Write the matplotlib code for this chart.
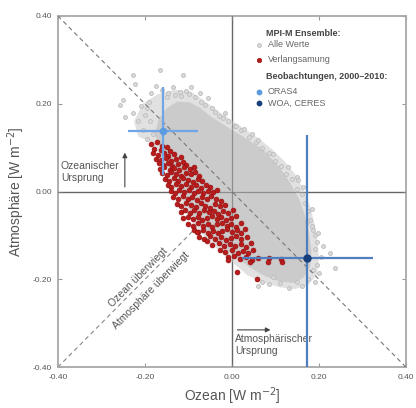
import matplotlib
matplotlib.use("Agg")
import matplotlib.pyplot as plt

plt.rcParams["font.family"] = ["Liberation Sans", "DejaVu Sans"]

# ---------------- data ----------------
tick_vals = [-0.40, -0.20, 0.00, 0.20, 0.40]
tick_labels = ["-0.40", "-0.20", "0.00", "0.20", "0.40"]

# "Alle Werte": thousands of overlapping points, drawn as their dense core ...
grey_core_x = [-0.178, -0.168, -0.150, -0.125, -0.097, -0.072, -0.050, -0.012, 0.026, 0.072, 0.110,
               0.135, 0.155, 0.168, 0.177, 0.183, 0.180, 0.165, 0.145, 0.110, 0.075, 0.040, 0.010,
               -0.030, -0.065, -0.095, -0.120, -0.140, -0.155, -0.168]
grey_core_y = [0.130, 0.165, 0.190, 0.205, 0.203, 0.190, 0.172, 0.148, 0.125, 0.095, 0.055,
               0.018, -0.018, -0.055, -0.095, -0.135, -0.170, -0.195, -0.208, -0.205, -0.192, -0.172, -0.150,
               -0.120, -0.085, -0.045, -0.005, 0.040, 0.080, 0.110]
# ... their speckled fringe ...
grey_halo_x = [-0.215, -0.225, -0.205, -0.170, -0.130, -0.095, -0.060, -0.030, 0.000, 0.030, 0.060,
               0.090, 0.120, 0.145, 0.165, 0.180, 0.190, 0.197, 0.200, 0.195, 0.175, 0.145, 0.110,
               0.070, 0.035, 0.000, -0.040, -0.075, -0.105, -0.128, -0.148, -0.165, -0.190]
grey_halo_y = [0.125, 0.160, 0.200, 0.222, 0.232, 0.228, 0.205, 0.182, 0.162, 0.142, 0.122,
               0.098, 0.070, 0.040, 0.005, -0.035, -0.075, -0.115, -0.155, -0.190, -0.213, -0.222, -0.218,
               -0.207, -0.190, -0.160, -0.125, -0.090, -0.050, -0.010, 0.040, 0.085, 0.115]
# ... and the single points outside
grey_x = [-0.257, -0.250, -0.227, -0.223, -0.166, -0.112, -0.093, -0.074, -0.055, -0.016, -0.120,
          -0.246, -0.228, -0.215, -0.205, -0.200, -0.190, -0.185, -0.175, -0.160, -0.148, -0.135,
          -0.130, -0.105, -0.085, -0.070, -0.045, -0.030, -0.010, 0.005, 0.020, -0.195, -0.210,
          -0.188, -0.182, -0.195, -0.150, -0.118, -0.098, -0.062, -0.040, -0.020, 0.010,
          0.040, 0.055, 0.070, 0.085, 0.100, 0.112, 0.125, 0.138, 0.149, 0.152, 0.150, 0.160,
          0.168, 0.175, 0.180, 0.185, 0.187, 0.195, 0.190, 0.225, 0.205, 0.237, 0.195, 0.191,
          0.186, 0.200, 0.175, 0.160, 0.149, 0.130, 0.110, 0.095, 0.085, 0.070, 0.060, 0.192,
          0.060, 0.095, 0.128, 0.163, 0.185, 0.198, 0.210, 0.045, 0.028, 0.172]
grey_y = [0.197, 0.208, 0.265, 0.245, 0.277, 0.265, 0.239, 0.224, 0.213, 0.178, 0.227,
          0.170, 0.180, 0.160, 0.140, 0.175, 0.205, 0.225, 0.240, 0.232, 0.225, 0.238,
          0.220, 0.228, 0.215, 0.205, 0.190, 0.172, 0.160, 0.150, 0.140, 0.190, 0.195,
          0.160, 0.130, 0.120, 0.215, 0.218, 0.222, 0.198, 0.182, 0.168, 0.150,
          0.125, 0.112, 0.100, 0.088, 0.070, 0.058, 0.040, 0.028, 0.034, 0.026, 0.005, -0.005,
          -0.025, -0.045, -0.065, -0.078, -0.088, -0.114, -0.130, -0.141, -0.150, -0.175, -0.167, -0.205,
          -0.179, -0.185, -0.200, -0.215, -0.205, -0.220, -0.209, -0.194, -0.210, -0.205, -0.215, -0.100,
          0.118, 0.085, 0.055, 0.010, -0.040, -0.095, -0.125, 0.130, 0.142, -0.070]

# "Verlangsamung" members
red_x = [-0.185, -0.172, -0.160, -0.178, -0.164, -0.150, -0.142, -0.182, -0.170, -0.157, -0.146, -0.133,
         -0.175, -0.163, -0.152, -0.140, -0.128, -0.118, -0.168, -0.158, -0.147, -0.137, -0.125, -0.113, -0.106,
         -0.165, -0.155, -0.143, -0.132, -0.121, -0.110, -0.097, -0.088,
         -0.160, -0.150, -0.139, -0.128, -0.117, -0.106, -0.095, -0.084, -0.075,
         -0.154, -0.145, -0.134, -0.123, -0.112, -0.101, -0.090, -0.079, -0.068,
         -0.148, -0.139, -0.128, -0.117, -0.106, -0.095, -0.083, -0.072, -0.060, -0.050,
         -0.140, -0.131, -0.121, -0.110, -0.099, -0.088, -0.077, -0.066, -0.055, -0.044, -0.034,
         -0.135, -0.124, -0.113, -0.102, -0.091, -0.080, -0.069, -0.058, -0.047, -0.036, -0.025,
         -0.127, -0.116, -0.105, -0.094, -0.083, -0.072, -0.061, -0.050, -0.039, -0.028, -0.016,
         -0.118, -0.108, -0.097, -0.086, -0.075, -0.064, -0.053, -0.042, -0.031, -0.020, -0.008, 0.003,
         -0.112, -0.101, -0.090, -0.079, -0.068, -0.057, -0.046, -0.035, -0.024, -0.013, -0.002, 0.009,
         -0.100, -0.089, -0.078, -0.067, -0.056, -0.045, -0.034, -0.023, -0.012, -0.001, 0.010, 0.020,
         -0.088, -0.077, -0.066, -0.055, -0.044, -0.033, -0.022, -0.011, 0.000, 0.011, 0.022, 0.030,
         -0.075, -0.063, -0.050, -0.038, -0.026, -0.014, -0.002, 0.010, 0.022, 0.034,
         -0.058, -0.045, -0.030, -0.018, -0.005, 0.008, 0.020, 0.032, 0.043,
         -0.028, -0.015, 0.000, 0.013, 0.026, 0.038, 0.048,
         -0.010, 0.005, 0.018, 0.032, 0.045, 0.060, 0.085, 0.112,
         0.011, 0.057, 0.114, 0.083, 0.041, -0.009, -0.081]
red_y = [0.108, 0.112, 0.104, 0.097, 0.094, 0.101, 0.092, 0.087, 0.083, 0.088, 0.081, 0.086,
         0.075, 0.072, 0.077, 0.070, 0.074, 0.079, 0.064, 0.061, 0.066, 0.059, 0.063, 0.068, 0.060,
         0.052, 0.055, 0.050, 0.053, 0.049, 0.055, 0.051, 0.057,
         0.042, 0.038, 0.044, 0.040, 0.036, 0.043, 0.039, 0.045, 0.035,
         0.028, 0.024, 0.030, 0.025, 0.031, 0.027, 0.022, 0.029, 0.024,
         0.014, 0.010, 0.017, 0.012, 0.018, 0.011, 0.015, 0.009, 0.016, 0.011,
         0.001, -0.004, 0.003, -0.002, 0.004, -0.003, 0.002, -0.004, 0.001, -0.002, 0.003,
         -0.013, -0.018, -0.011, -0.017, -0.012, -0.019, -0.013, -0.018, -0.011, -0.016, -0.021,
         -0.028, -0.033, -0.026, -0.031, -0.036, -0.027, -0.032, -0.038, -0.029, -0.034, -0.030,
         -0.046, -0.041, -0.048, -0.043, -0.049, -0.042, -0.047, -0.044, -0.050, -0.045, -0.048, -0.042,
         -0.061, -0.057, -0.063, -0.058, -0.064, -0.060, -0.055, -0.062, -0.058, -0.065, -0.060, -0.056,
         -0.073, -0.078, -0.072, -0.079, -0.074, -0.080, -0.075, -0.071, -0.078, -0.074, -0.080, -0.071,
         -0.088, -0.093, -0.087, -0.094, -0.089, -0.095, -0.090, -0.086, -0.093, -0.088, -0.094, -0.085,
         -0.103, -0.108, -0.102, -0.109, -0.104, -0.110, -0.105, -0.101, -0.108, -0.103,
         -0.113, -0.121, -0.118, -0.124, -0.119, -0.125, -0.120, -0.126, -0.118,
         -0.133, -0.138, -0.134, -0.140, -0.135, -0.141, -0.132,
         -0.150, -0.147, -0.153, -0.150, -0.155, -0.151, -0.152, -0.154,
         -0.183, -0.200, -0.161, -0.161, -0.160, -0.156, -0.092]

# observations (value, uncertainty)
oras4_x, oras4_y = -0.159, 0.138
oras4_xerr, oras4_yerr = 0.080, 0.100
woa_x, woa_y = 0.173, -0.151
woa_xerr, woa_yerr = 0.150, 0.280

# ---------------- figure ----------------
fig = plt.figure(figsize=(4.16, 4.08), dpi=100)
ax = fig.add_axes([0.139, 0.100, 0.837, 0.861])
ax.set_xlim(-0.40, 0.40)
ax.set_ylim(-0.40, 0.40)

# reference lines
ax.plot([-0.40, 0.0], [-0.40, 0.0], color="#888888", lw=0.8, dashes=(4, 3), zorder=1)
ax.axhline(0, color="#666666", lw=0.9, zorder=1)
ax.axvline(0, color="#666666", lw=0.9, zorder=1)

# all values
ax.fill(grey_halo_x, grey_halo_y, color="#e1e1e1", lw=0, zorder=2)
ax.fill(grey_core_x, grey_core_y, color="#cbcbcb", lw=0, zorder=2)
ax.scatter(grey_x, grey_y, s=8, facecolor="#dadada", edgecolor="#bcbcbc", linewidths=0.6, zorder=2)

ax.plot([-0.40, 0.40], [0.40, -0.40], color="#777777", lw=0.8, dashes=(4, 3), zorder=3)
ax.axhline(0, color="#666666", lw=0.9, zorder=3, alpha=0.6)
ax.axvline(0, color="#666666", lw=0.9, zorder=3, alpha=0.6)

# slowdown members
ax.scatter(red_x, red_y, s=12, facecolor="#b81c1c", edgecolor="#9a1010", linewidths=0.5, zorder=4)

# observations
ax.errorbar([oras4_x], [oras4_y], xerr=[oras4_xerr], yerr=[oras4_yerr], fmt="o", ms=4.5,
            color="#6ea6e8", mfc="#5b9be0", mec="#5b9be0", elinewidth=1.6, capsize=0, zorder=5)
ax.errorbar([woa_x], [woa_y], xerr=[woa_xerr], yerr=[woa_yerr], fmt="o", ms=5,
            color="#4f7fbf", mfc="#173f7c", mec="#173f7c", elinewidth=1.6, capsize=0, zorder=5)

# annotations
txt = "#555555"
ax.text(-0.216, -0.195, "Ozean überwiegt", rotation=45.3, rotation_mode="anchor",
        ha="center", va="center", fontsize=7.5, color=txt)
ax.text(-0.186, -0.226, "Atmosphäre überwiegt", rotation=45.3, rotation_mode="anchor",
        ha="center", va="center", fontsize=7.5, color=txt)
ax.annotate("", xy=(-0.246, 0.095), xytext=(-0.246, 0.004),
            arrowprops=dict(arrowstyle="-|>", color="#444444", lw=0.8, mutation_scale=7))
ax.text(-0.393, 0.045, "Ozeanischer\nUrsprung", fontsize=7.5, color=txt, ha="left", va="center",
        linespacing=1.2)
ax.annotate("", xy=(0.095, -0.315), xytext=(0.006, -0.315),
            arrowprops=dict(arrowstyle="-|>", color="#444444", lw=0.8, mutation_scale=7))
ax.text(0.008, -0.349, "Atmosphärischer\nUrsprung", fontsize=7.5, color=txt, ha="left", va="center",
        linespacing=1.2)

# legend block
ax.text(0.079, 0.359, "MPI-M Ensemble:", fontsize=6.5, fontweight="bold", color="#444444", va="center")
ax.scatter([0.062], [0.334], s=8, facecolor="#dadada", edgecolor="#bcbcbc", linewidths=0.6)
ax.text(0.083, 0.334, "Alle Werte", fontsize=6.5, color="#666666", va="center")
ax.scatter([0.062], [0.300], s=10, facecolor="#b81c1c", edgecolor="#9a1010", linewidths=0.5)
ax.text(0.083, 0.300, "Verlangsamung", fontsize=6.5, color="#666666", va="center")
ax.text(0.079, 0.262, "Beobachtungen, 2000–2010:", fontsize=6.5, fontweight="bold", color="#444444",
        va="center")
ax.scatter([0.062], [0.227], s=10, color="#5b9be0")
ax.text(0.083, 0.227, "ORAS4", fontsize=6.5, color="#666666", va="center")
ax.scatter([0.062], [0.202], s=10, color="#173f7c")
ax.text(0.083, 0.202, "WOA, CERES", fontsize=6.5, color="#666666", va="center")

# axes styling
ax.set_xticks(tick_vals)
ax.set_xticklabels(tick_labels)
ax.set_yticks(tick_vals)
ax.set_yticklabels(tick_labels)
ax.tick_params(direction="in", length=3, width=0.8, color="#999999", labelsize=6, labelcolor="#555555",
               top=True, right=True)
ax.tick_params(axis="x", pad=5)
ax.tick_params(axis="y", pad=4)
for sp in ax.spines.values():
    sp.set_color("#a8a8a8")
    sp.set_linewidth(1.3)
ax.set_xlabel("Ozean [W m$^{-2}$]", fontsize=10, color="#555555", labelpad=3)
ax.set_ylabel("Atmosphäre [W m$^{-2}$]", fontsize=10, color="#555555", labelpad=4)

fig.savefig("out.png", dpi=100)
